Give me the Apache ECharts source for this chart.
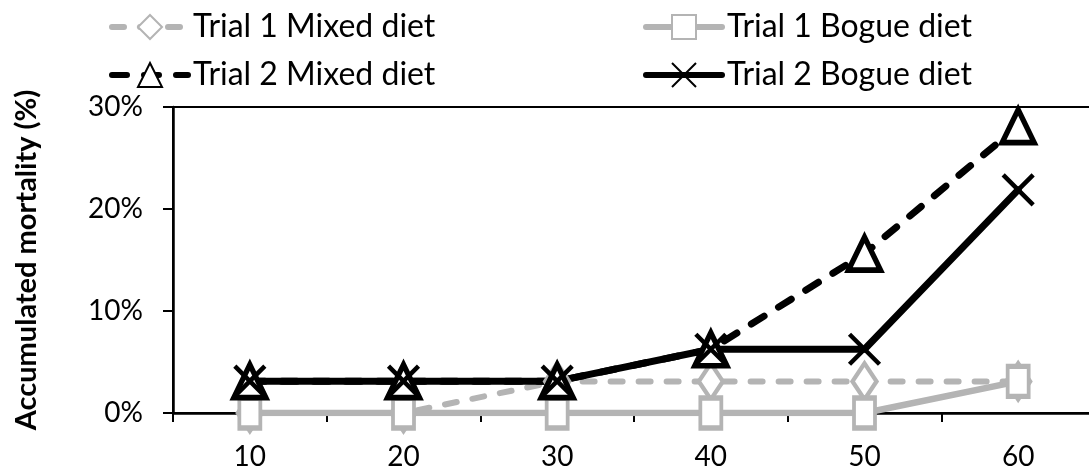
<!DOCTYPE html>
<html>
<head>
<meta charset="utf-8">
<script src="https://cdn.jsdelivr.net/npm/echarts@6/dist/echarts.min.js"></script>
<style>
  html, body { margin: 0; padding: 0; background: #fff; }
  #chart { width: 1089px; height: 470px; }
</style>
</head>
<body>
<div id="chart"></div>
<script>
// Days of trial on the x axis
const days = ['10', '20', '30', '40', '50', '60'];

// Accumulated mortality (%) per sampling day
const trial1Mixed = [0, 0, 3.1, 3.1, 3.1, 3.1];
const trial1Bogue = [0, 0, 0, 0, 0, 3.1];
const trial2Mixed = [3.125, 3.125, 3.125, 6.25, 15.625, 28.125];
const trial2Bogue = [3.125, 3.125, 3.125, 6.25, 6.25, 21.875];

const yTicks = [0, 10, 20, 30];

const GREY = '#b4b4b4';
const BLACK = '#000000';
const FONT = 'Lato, "Open Sans", sans-serif';
const CROSS = 'path://M0,0L10,10M10,0L0,10';

function lineSeries(name, data, color, opts) {
  return {
    name: name,
    type: 'line',
    data: data,
    symbol: opts.symbol,
    symbolSize: opts.size,
    lineStyle: { color: color, width: opts.width, type: opts.dash || 'solid', cap: 'round', join: 'round' },
    itemStyle: {
      color: opts.symbol === CROSS ? color : '#ffffff',
      borderColor: color,
      borderWidth: opts.border
    },
    emphasis: { disabled: true }
  };
}

const chart = echarts.init(document.getElementById('chart'), null, { renderer: 'canvas' });

const legendBase = {
  orient: 'vertical', top: 4, itemGap: 12,
  itemWidth: 76, itemHeight: 30,
  lineStyle: { width: 6 },
  textStyle: { fontFamily: FONT, fontSize: 32, color: '#000', lineHeight: 36 }
};

chart.setOption({
  animation: false,
  backgroundColor: '#ffffff',
  legend: [
    Object.assign({ left: 104, data: ['Trial 1 Mixed diet', 'Trial 2 Mixed diet'] }, legendBase),
    Object.assign({ left: 638, data: ['Trial 1 Bogue diet', 'Trial 2 Bogue diet'] }, legendBase)
  ],
  grid: {
    left: 173, top: 107, width: 922, bottom: 57,
    outerBoundsMode: 'none',
    containLabel: false,
    show: true, borderColor: BLACK, borderWidth: 2, backgroundColor: 'transparent'
  },
  xAxis: {
    type: 'category',
    data: days,
    boundaryGap: true,
    axisLine: { lineStyle: { color: BLACK, width: 2.5 } },
    axisTick: { show: true, interval: 0, length: 9, lineStyle: { color: BLACK, width: 2 } },
    axisLabel: { fontFamily: FONT, fontSize: 28, color: '#000', margin: 30 },
    splitLine: { show: false }
  },
  yAxis: {
    type: 'value',
    min: yTicks[0],
    max: yTicks[yTicks.length - 1],
    interval: 10,
    name: 'Accumulated mortality (%)',
    nameLocation: 'middle',
    nameRotate: 90,
    nameGap: 132,
    nameTextStyle: { fontFamily: FONT, fontSize: 29, fontWeight: 'bold', color: '#000' },
    axisLine: { show: true, lineStyle: { color: BLACK, width: 2.5 } },
    axisTick: { show: true, length: 10, lineStyle: { color: BLACK, width: 2 } },
    axisLabel: { fontFamily: FONT, fontSize: 28, color: '#000', margin: 30, formatter: '{value}%' },
    splitLine: { show: false }
  },
  series: [
    lineSeries('Trial 1 Mixed diet', trial1Mixed, GREY, { symbol: 'diamond', size: [24, 36], width: 6, dash: [12, 16], border: 4.5 }),
    lineSeries('Trial 1 Bogue diet', trial1Bogue, GREY, { symbol: 'rect', size: [21, 30], width: 6.5, border: 4.5 }),
    lineSeries('Trial 2 Mixed diet', trial2Mixed, BLACK, { symbol: 'triangle', size: [32, 33], width: 7, dash: [15, 17], border: 5.5 }),
    lineSeries('Trial 2 Bogue diet', trial2Bogue, BLACK, { symbol: CROSS, size: [30, 30], width: 7, border: 4.5 })
  ]
});
</script>
</body>
</html>
